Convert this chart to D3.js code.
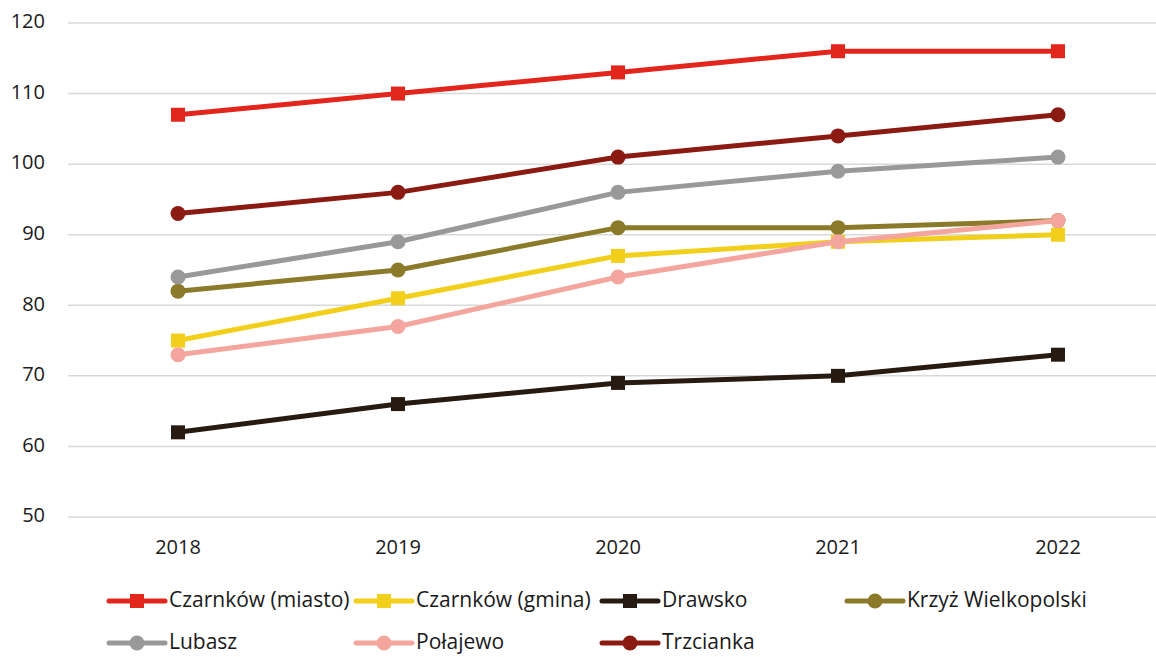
<!DOCTYPE html>
<html>
<head>
<meta charset="utf-8">
<script src="https://cdn.jsdelivr.net/npm/d3@7"></script>
<style>
  body { margin: 0; background: #fff; }
  text { font-family: "Open Sans", Lato, sans-serif; fill: #1a1a1a; }
</style>
</head>
<body>
<div id="chart"></div>
<script>
const width = 1156, height = 657;

const years = ["2018", "2019", "2020", "2021", "2022"];
const yTicks = [50, 60, 70, 80, 90, 100, 110, 120];

const seriesNames = ["Czarnków (miasto)", "Czarnków (gmina)", "Drawsko", "Krzyż Wielkopolski", "Lubasz", "Połajewo", "Trzcianka"];
const czarnkowMiasto = [107, 110, 113, 116, 116];
const czarnkowGmina = [75, 81, 87, 89, 90];
const drawsko = [62, 66, 69, 70, 73];
const krzyz = [82, 85, 91, 91, 92];
const lubasz = [84, 89, 96, 99, 101];
const polajewo = [73, 77, 84, 89, 92];
const trzcianka = [93, 96, 101, 104, 107];

const seriesColors = ["#e3261c", "#f2cf1a", "#271a10", "#8b7a2a", "#999999", "#f4a69e", "#8b1a12"];
const seriesShapes = ["square", "square", "square", "circle", "circle", "circle", "circle"];

const allValues = [czarnkowMiasto, czarnkowGmina, drawsko, krzyz, lubasz, polajewo, trzcianka];
const series = seriesNames.map((name, i) => ({
  name: name,
  color: seriesColors[i],
  shape: seriesShapes[i],
  values: allValues[i].map((v, j) => ({ year: years[j], value: v }))
}));

const svg = d3.select("#chart")
  .append("svg")
    .attr("width", width)
    .attr("height", height);

const xScale = d3.scaleBand()
  .domain(years)
  .range([68, 1168]);

const yScale = d3.scaleLinear()
  .domain([50, 120])
  .range([517, 23]);

const xPos = d => xScale(d) + xScale.bandwidth() / 2;

// gridlines
svg.append("g")
  .selectAll("line")
  .data(yTicks)
  .join("line")
    .attr("x1", 68)
    .attr("x2", 1168)
    .attr("y1", d => yScale(d))
    .attr("y2", d => yScale(d))
    .attr("stroke", "#d9d9d9")
    .attr("stroke-width", 1.5);

// y labels
svg.append("g")
  .selectAll("text")
  .data(yTicks)
  .join("text")
    .text(d => d)
    .attr("x", 45)
    .attr("y", d => yScale(d))
    .attr("text-anchor", "end")
    .attr("dominant-baseline", "middle")
    .style("font-size", "20px");

// x labels
svg.append("g")
  .selectAll("text")
  .data(years)
  .join("text")
    .text(d => d)
    .attr("x", d => xPos(d))
    .attr("y", 549)
    .attr("text-anchor", "middle")
    .attr("dominant-baseline", "middle")
    .style("font-size", "20px");

const line = d3.line()
  .x(d => xPos(d.year))
  .y(d => yScale(d.value));

const drawMarker = (g, shape, color) => {
  if (shape === "square") {
    g.append("rect")
      .attr("x", -7).attr("y", -7)
      .attr("width", 14).attr("height", 14)
      .attr("fill", color);
  } else {
    g.append("circle")
      .attr("r", 7.5)
      .attr("fill", color);
  }
};

series.forEach(s => {
  const g = svg.append("g");
  g.append("path")
    .datum(s.values)
    .attr("d", line)
    .attr("fill", "none")
    .attr("stroke", s.color)
    .attr("stroke-width", 5)
    .attr("stroke-linejoin", "round");

  s.values.forEach(d => {
    const m = g.append("g")
      .attr("transform", `translate(${xPos(d.year)}, ${yScale(d.value)})`);
    drawMarker(m, s.shape, s.color);
  });
});

// legend
const legendCols = [109, 356, 602, 847];
const legendRows = [601, 643];

series.forEach((s, i) => {
  const col = i < 4 ? i : i - 4;
  const row = i < 4 ? 0 : 1;
  const lg = svg.append("g")
    .attr("transform", `translate(${legendCols[col]}, ${legendRows[row]})`);
  lg.append("line")
    .attr("x1", 0).attr("x2", 56)
    .attr("y1", 0).attr("y2", 0)
    .attr("stroke", s.color)
    .attr("stroke-width", 5)
    .attr("stroke-linecap", "round");
  const m = lg.append("g").attr("transform", "translate(28, 0)");
  drawMarker(m, s.shape, s.color);
  lg.append("text")
    .text(s.name)
    .attr("x", 60)
    .attr("y", 0)
    .attr("dominant-baseline", "middle")
    .style("font-size", "21px");
});
</script>
</body>
</html>
